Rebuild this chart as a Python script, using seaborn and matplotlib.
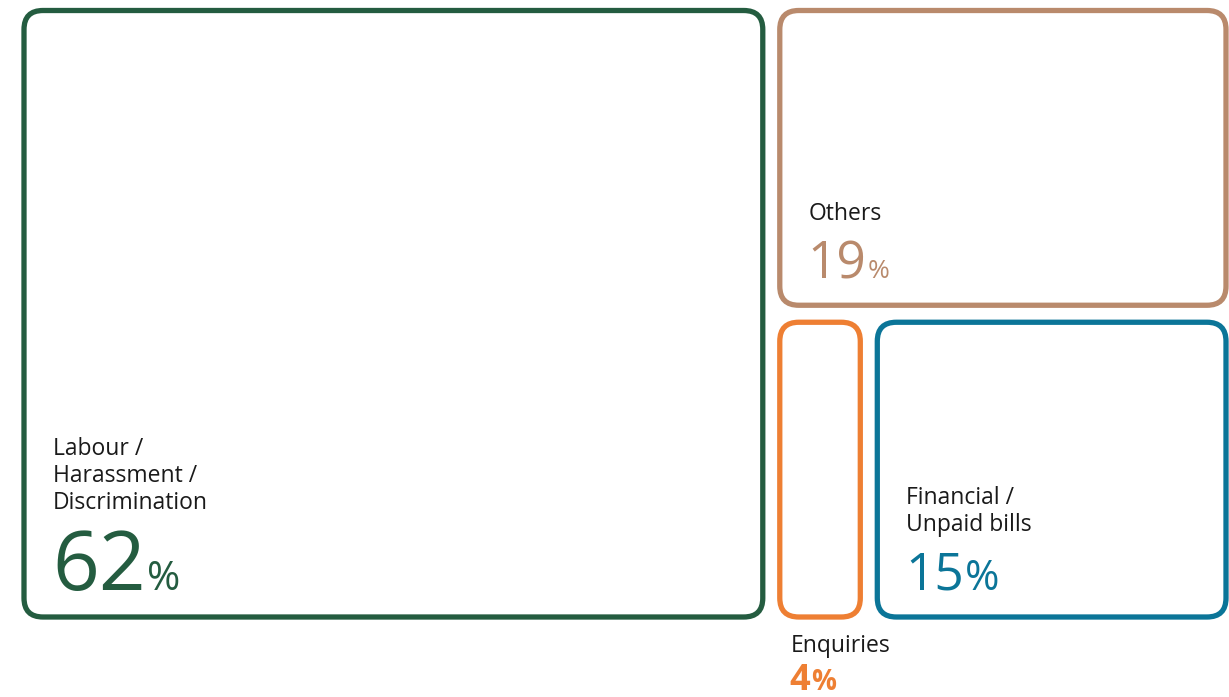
import matplotlib
matplotlib.use("Agg")
import matplotlib.pyplot as plt
from matplotlib.patches import FancyBboxPatch
import seaborn as sns

# Complaint categories and their shares (%)
categories = ["Labour / Harassment / Discrimination", "Others", "Enquiries", "Financial / Unpaid bills"]
label_lines = [["Labour /", "Harassment /", "Discrimination"], ["Others"], ["Enquiries"], ["Financial /", "Unpaid bills"]]
values = [62, 19, 4, 15]
colors = ["#245C40", "#B98A6C", "#EE7F33", "#0B7598"]

# Per-tile text styling: number size, percent-sign size, weight, label placed inside or below
num_sizes = [59, 37, 26, 37]
pct_sizes = [29, 19, 20, 30]
weights = ["normal", "normal", "bold", "normal"]
inside = [True, True, False, True]

sns.set_theme(style="white")
plt.rcParams["font.family"] = ["Open Sans", "DejaVu Sans"]

W, H = 1229, 697
fig = plt.figure(figsize=(W / 100, H / 100), dpi=100)
ax = fig.add_axes([0, 0, 1, 1])
ax.set_xlim(0, W)
ax.set_ylim(H, 0)
ax.axis("off")

# Treemap layout: first tile takes a full-height column, the rest fill the right column
gap = 17
ox0, ox1 = 24 - gap / 2, 1226 + gap / 2
oy0, oy1 = 10.5 - gap / 2, 617 + gap / 2
total = sum(values)
big, top, small_a, small_b = values
col_w = (ox1 - ox0) * big / total
cells = []
cells.append((ox0, oy0, col_w, oy1 - oy0))
rx0 = ox0 + col_w
rw = ox1 - rx0
rest = top + small_a + small_b
top_h = (oy1 - oy0) * top / rest
cells.append((rx0, oy0, rw, top_h))
bottom_y = oy0 + top_h
bottom_h = oy1 - bottom_y
a_w = rw * small_a / (small_a + small_b)
cells.append((rx0, bottom_y, a_w, bottom_h))
cells.append((rx0 + a_w, bottom_y, rw - a_w, bottom_h))

boxes = []
for (x, y, w, h), c in zip(cells, colors):
    bx, by, bw, bh = x + gap / 2, y + gap / 2, w - gap, h - gap
    patch = FancyBboxPatch((bx, by), bw, bh,
                           boxstyle="round,pad=0,rounding_size=19",
                           linewidth=3.8, edgecolor=c, facecolor="none",
                           mutation_aspect=1)
    ax.add_patch(patch)
    boxes.append((bx, by, bw, bh))

fig.canvas.draw()
renderer = fig.canvas.get_renderer()
line_step = 27
text_color = "#1A1A1A"

for i, (bx, by, bw, bh) in enumerate(boxes):
    if inside[i]:
        tx = bx + 29
        num_base = by + bh - 27
        label_base = num_base - (num_sizes[i] * 100 / 72) * 0.714 - 22
    else:
        tx = bx + 11
        label_base = by + bh + 35
        num_base = by + bh + 73
    lines = label_lines[i]
    for j, line in enumerate(lines):
        ax.text(tx, label_base - (len(lines) - 1 - j) * line_step, line,
                fontsize=16.5, color=text_color, ha="left", va="baseline")
    t = ax.text(tx - 1, num_base, f"{values[i]}", fontsize=num_sizes[i],
                color=colors[i], fontweight=weights[i], ha="left", va="baseline")
    bb = t.get_window_extent(renderer)
    x_end = ax.transData.inverted().transform((bb.x1, bb.y0))[0]
    ax.text(x_end + 1, num_base, "%", fontsize=pct_sizes[i],
            color=colors[i], fontweight=weights[i], ha="left", va="baseline")

fig.savefig("out.png", dpi=100, facecolor="white")
